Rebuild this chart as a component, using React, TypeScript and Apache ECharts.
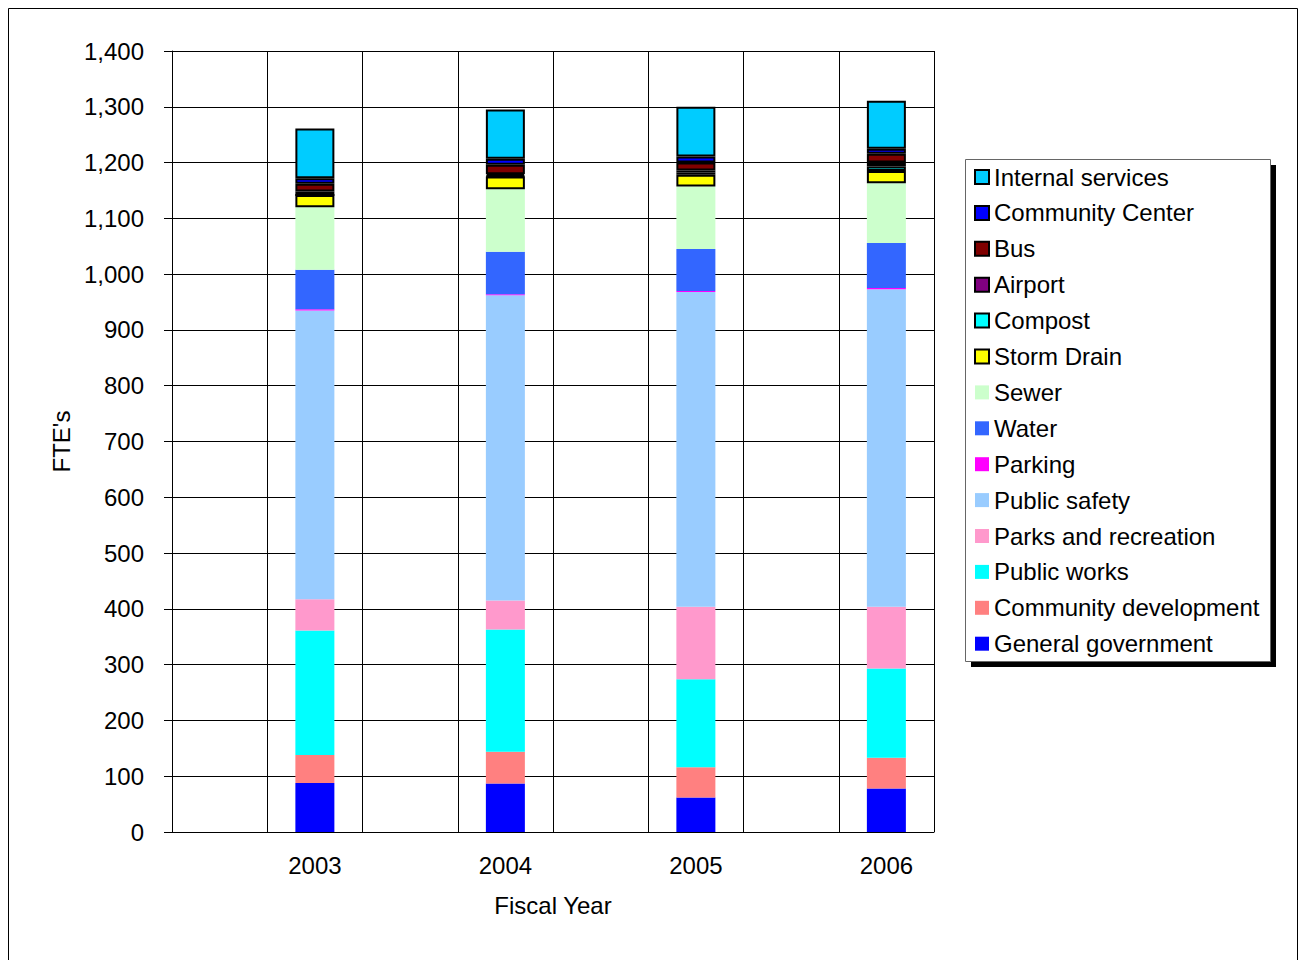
import React, { useEffect, useRef } from "react";
import * as echarts from "echarts";

// Fiscal years shown on the x axis
const years = ["2003", "2004", "2005", "2006"];

// Full-time equivalents by department, one value per fiscal year
const generalGovernment = [88, 87, 62, 78];
const communityDevelopment = [50, 57, 54, 55];
const publicWorks = [223, 219, 158, 160];
const parksAndRecreation = [56, 52, 130, 111];
const publicSafety = [518, 547, 564, 569];
const parking = [2, 2, 2, 2];
const water = [71, 76, 75, 81];
const sewer = [112, 112, 112, 107];
const stormDrain = [22, 23, 21, 22];
const compost = [0, 1, 4, 8];
const airport = [6, 3, 4, 7];
const bus = [14, 17, 14, 16];
const communityCenter = [10, 11, 11, 9];
const internalServices = [89, 88, 89, 86];

// Y axis tick range
const yMin = 0;
const yMax = 1400;
const yStep = 100;

type SeriesDef = { name: string; values: number[]; color: string; outlined: boolean };

// Stacking order, bottom to top
const seriesDefs: SeriesDef[] = [
  { name: "General government", values: generalGovernment, color: "#0000FF", outlined: false },
  { name: "Community development", values: communityDevelopment, color: "#FF8080", outlined: false },
  { name: "Public works", values: publicWorks, color: "#00FFFF", outlined: false },
  { name: "Parks and recreation", values: parksAndRecreation, color: "#FF99CC", outlined: false },
  { name: "Public safety", values: publicSafety, color: "#99CCFF", outlined: false },
  { name: "Parking", values: parking, color: "#FF00FF", outlined: false },
  { name: "Water", values: water, color: "#3366FF", outlined: false },
  { name: "Sewer", values: sewer, color: "#CCFFCC", outlined: false },
  { name: "Storm Drain", values: stormDrain, color: "#FFFF00", outlined: true },
  { name: "Compost", values: compost, color: "#00FFFF", outlined: true },
  { name: "Airport", values: airport, color: "#800080", outlined: true },
  { name: "Bus", values: bus, color: "#800000", outlined: true },
  { name: "Community Center", values: communityCenter, color: "#0000FF", outlined: true },
  { name: "Internal services", values: internalServices, color: "#00CCFF", outlined: true },
];

const FONT = "'Liberation Sans', Arial, Helvetica, sans-serif";

export default function App() {
  const ref = useRef<HTMLDivElement>(null);

  useEffect(() => {
    if (!ref.current) return;
    const chart = echarts.init(ref.current, undefined, { renderer: "svg" });

    // Each year gets an empty slot before it so the bars sit in every other band
    const categories = years.flatMap((y) => ["", y]);
    const spread = (vals: number[]) => vals.flatMap((v) => [null, v]);

    const series = seriesDefs.map((d) => ({
      name: d.name,
      type: "bar" as const,
      stack: "total",
      barWidth: 39,
      data: spread(d.values),
      itemStyle: {
        color: d.color,
        borderColor: d.outlined ? "#000000" : undefined,
        borderWidth: d.outlined ? 2 : 0,
      },
      emphasis: { disabled: true },
    }));

    chart.setOption({
      animation: false,
      textStyle: { fontFamily: FONT },
      grid: { left: 164, top: 43, width: 762, height: 781, containLabel: false },
      graphic: [
        {
          type: "rect",
          z: 0,
          shape: { x: 0.5, y: 0.5, width: 1289, height: 1000 },
          style: { fill: "none", stroke: "#000000", lineWidth: 1 },
        },
        {
          type: "rect",
          z: 1,
          shape: { x: 963, y: 157, width: 305, height: 502 },
          style: { fill: "#000000" },
        },
        {
          type: "rect",
          z: 2,
          shape: { x: 957.5, y: 151.5, width: 305, height: 502 },
          style: { fill: "#FFFFFF", stroke: "#666666", lineWidth: 1 },
        },
      ],
      legend: {
        orient: "vertical",
        left: 966,
        top: 157,
        padding: 0,
        itemGap: 11.9,
        itemWidth: 14,
        itemHeight: 14,
        icon: "rect",
        selectedMode: false,
        z: 5,
        data: seriesDefs.map((d) => d.name).reverse(),
        textStyle: { fontSize: 24, color: "#000000", fontFamily: FONT, lineHeight: 24 },
      },
      xAxis: {
        type: "category",
        data: categories,
        boundaryGap: true,
        name: "Fiscal Year",
        nameLocation: "middle",
        nameGap: 61,
        nameTextStyle: { fontSize: 24, color: "#000000", fontFamily: FONT },
        axisLine: { show: true, lineStyle: { color: "#000000", width: 1 } },
        axisTick: { show: false },
        axisLabel: { interval: 0, fontSize: 24, color: "#000000", margin: 21, fontFamily: FONT },
        splitLine: { show: true, interval: 0, lineStyle: { color: "#000000", width: 1 } },
      },
      yAxis: {
        type: "value",
        min: yMin,
        max: yMax,
        interval: yStep,
        name: "FTE's",
        nameLocation: "middle",
        nameRotate: 90,
        nameGap: 98,
        nameTextStyle: { fontSize: 24, color: "#000000", fontFamily: FONT },
        axisLine: { show: true, lineStyle: { color: "#000000", width: 1 } },
        axisTick: { show: true, inside: false, length: 8, lineStyle: { color: "#000000" } },
        axisLabel: {
          fontSize: 24,
          color: "#000000",
          margin: 28,
          fontFamily: FONT,
          formatter: (v: number) => v.toLocaleString("en-US"),
        },
        splitLine: { show: true, lineStyle: { color: "#000000", width: 1 } },
      },
      series,
    });

    return () => chart.dispose();
  }, []);

  return (
    <div
      ref={ref}
      style={{ position: "absolute", left: 8, top: 8, width: 1290, height: 952, background: "#FFFFFF" }}
    />
  );
}
